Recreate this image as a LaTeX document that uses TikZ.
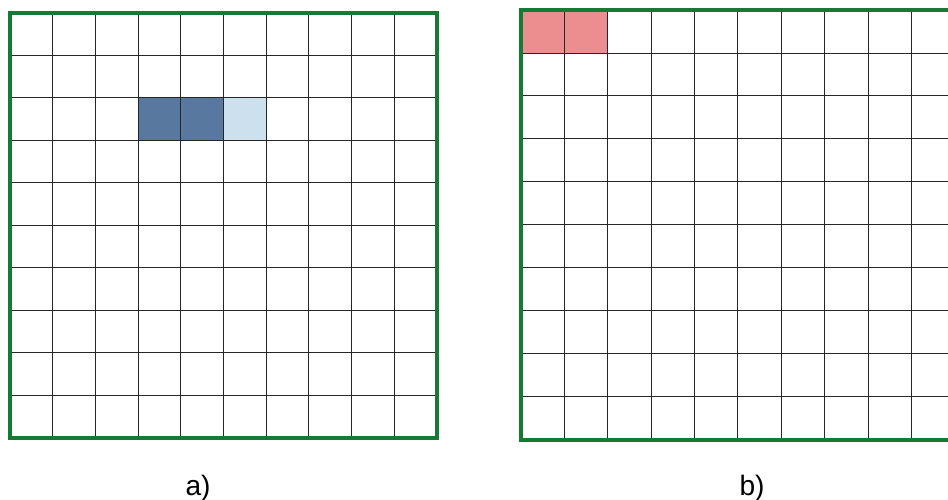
\documentclass[tikz,border=0pt]{standalone}
\usepackage{fontspec}
\setmainfont{Liberation Sans}
\definecolor{framegreen}{RGB}{22,122,52}
\definecolor{cellblue}{RGB}{88,120,160}
\definecolor{paleblue}{RGB}{204,224,238}
\definecolor{cellpink}{RGB}{236,142,144}

\begin{document}
\begin{tikzpicture}[
  x=0.02cm, y=-0.02cm,
  gridline/.style={black!85, line width=0.55pt},
  frame/.style={draw=framegreen, line width=2.3pt},
  caption/.style={font=\fontsize{16}{19}\selectfont, inner sep=0pt},
]
\useasboundingbox (0,0) rectangle (948,500);
\clip (0,0) rectangle (948,500);

% Grid a)
\begin{scope}[shift={(10,13)}, x=0.854cm, y=-0.85cm]
  \fill[cellblue] (3,2) rectangle (5,3);
  \fill[paleblue] (5,2) rectangle (6,3);
  \foreach \k in {1,...,9} {
    \draw[gridline] (\k,0) -- (\k,10);
    \draw[gridline] (0,\k) -- (10,\k);
  }
  \draw[frame] (0,0) rectangle (10,10);
\end{scope}

% Grid b)
\begin{scope}[shift={(521,10)}, x=0.868cm, y=-0.86cm]
  \fill[cellpink] (0,0) rectangle (2,1);
  \foreach \k in {1,...,9} {
    \draw[gridline] (\k,0) -- (\k,10);
    \draw[gridline] (0,\k) -- (10,\k);
  }
  \draw[frame] (0,0) rectangle (10,10);
\end{scope}

% Labels below
\node[caption, anchor=base] (capa) at (198,496) {a)};
\node[caption, anchor=base] (capb) at (752,496) {b)};

\end{tikzpicture}
\end{document}
